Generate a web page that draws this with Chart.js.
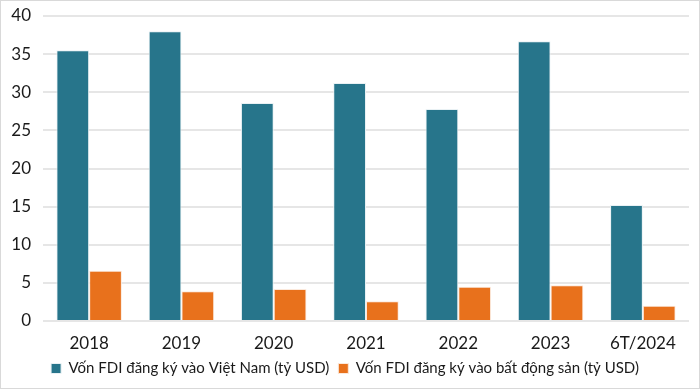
<!DOCTYPE html>
<html>
<head>
<meta charset="utf-8">
<script src="https://cdn.jsdelivr.net/npm/chart.js@4"></script>
<style>
  html, body { margin:0; padding:0; background:#fff; }
  #wrap { width:698px; height:387px; border:1px solid #d9d9d9; }
</style>
</head>
<body>
<div id="wrap"><canvas id="chart" width="698" height="387"></canvas></div>
<script>
// FDI chart: registered FDI vs FDI into real estate
const YEARS = ["2018","2019","2020","2021","2022","2023","6T/2024"];
const FDI_TOTAL = [35.5,38.0,28.6,31.2,27.8,36.7,15.2];
const FDI_REAL_ESTATE = [6.6,3.9,4.2,2.6,4.5,4.7,2.0];
const Y_TICKS = [0,5,10,15,20,25,30,35,40];

Chart.defaults.font.family = "Lato, 'Open Sans', sans-serif";
Chart.defaults.color = "#1a1a1a";

new Chart(document.getElementById("chart").getContext("2d"), {
  type: 'bar',
  data: {
    labels: YEARS,
    datasets: [
      { label: 'Vốn FDI đăng ký vào Việt Nam (tỷ USD)', data: FDI_TOTAL, backgroundColor: '#27758b', borderColor: '#e9f1f4', borderWidth: 1 },
      { label: 'Vốn FDI đăng ký vào bất động sản (tỷ USD)', data: FDI_REAL_ESTATE, backgroundColor: '#e8711c', borderColor: '#fbe9dc', borderWidth: 1 }
    ]
  },
  options: {
    responsive:false,
    animation:false,
    layout: { padding: { top:0, right:10, left:0, bottom:2 } },
    datasets: { bar: { barPercentage:1, categoryPercentage:0.71 } },
    plugins: {
      legend: {
        position:'bottom',
        labels: { boxWidth:10, boxHeight:10, padding:9, font:{ size:15 }, color:'#1a1a1a' }
      },
      tooltip: { enabled:false }
    },
    scales: {
      x: {
        grid: { display:false },
        border: { display:false },
        ticks: { font:{ size:17 }, padding:4, color:'#1a1a1a' },
        afterFit: s => { s.height = 31; }
      },
      y: {
        min:0, max:40,
        afterBuildTicks: s => { s.ticks = Y_TICKS.map(v => ({ value:v })); },
        grid: { color:'#e6e6e6', lineWidth:2, drawTicks:false },
        border: { display:false },
        ticks: { font:{ size:17 }, padding:12, color:'#1a1a1a' },
        afterFit: s => { s.width = 42; s.paddingTop = 15; }
      }
    }
  }
});
</script>
</body>
</html>
